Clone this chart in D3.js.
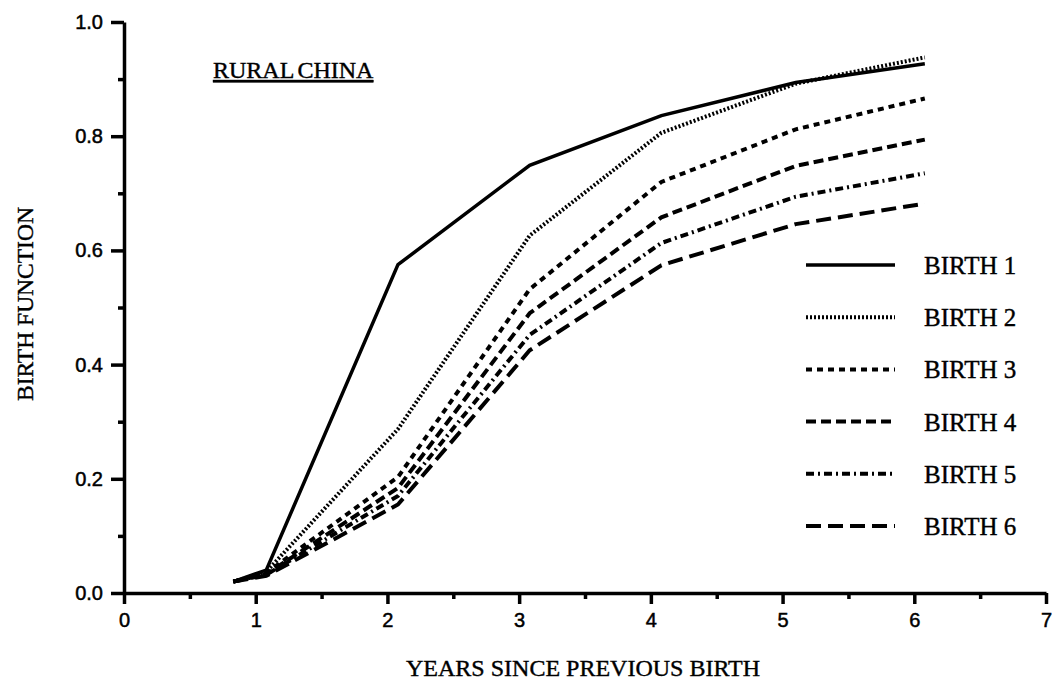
<!DOCTYPE html>
<html>
<head>
<meta charset="utf-8">
<script src="https://cdnjs.cloudflare.com/ajax/libs/d3/7.8.5/d3.min.js"></script>
<style>
  body { margin: 0; background: #fff; }
  .tick text { font-family: "Liberation Sans", Arial, sans-serif; font-size: 20px; fill: #000; stroke: #000; stroke-width: 0.5px; }
  .serif { font-family: "Liberation Serif", "Times New Roman", serif; fill: #000; stroke: #000; stroke-width: 0.4px; }
  .domain, .tick line { stroke: #000; stroke-width: 3.5px; }
</style>
</head>
<body>
<div id="chart-area"></div>
<script>
// data
var years = [0.83, 1.08, 2.08, 3.08, 4.08, 5.1, 6.08];
var birth1 = [0.020, 0.040, 0.575, 0.749, 0.836, 0.894, 0.927];
var birth2 = [0.020, 0.037, 0.287, 0.626, 0.806, 0.892, 0.938];
var birth3 = [0.020, 0.035, 0.203, 0.532, 0.720, 0.812, 0.866];
var birth4 = [0.020, 0.033, 0.184, 0.490, 0.658, 0.748, 0.794];
var birth5 = [0.020, 0.032, 0.170, 0.452, 0.613, 0.694, 0.735];
var birth6 = [0.020, 0.030, 0.155, 0.425, 0.574, 0.646, 0.682];
var seriesNames = ["BIRTH 1", "BIRTH 2", "BIRTH 3", "BIRTH 4", "BIRTH 5", "BIRTH 6"];
var xTicks = [0, 1, 2, 3, 4, 5, 6, 7];
var yTicks = [0, 0.2, 0.4, 0.6, 0.8, 1.0];

var allSeries = [birth1, birth2, birth3, birth4, birth5, birth6];
// line styles: solid, dotted, short dash, dash, dash-dot, long dash
var dashes = ["none", "2,2", "6,5", "10,5", "8,4,2,4", "15,7"];
var widths = [3.5, 4, 4, 4, 4, 4];

var width = 1052, height = 681;

var svg = d3.select("#chart-area")
    .append("svg")
        .attr("width", width)
        .attr("height", height);

// Scales
var xScale = d3.scaleLinear()
    .domain([0, 7])
    .range([124, 1046]);
var yScale = d3.scaleLinear()
    .domain([0, 1])
    .range([593, 22]);

// X Axis (major + minor ticks)
svg.append("g")
    .attr("class", "minor")
    .attr("transform", "translate(0,593)")
    .call(d3.axisBottom(xScale).tickValues(d3.range(0.5, 7, 1)).tickSize(6).tickFormat(""));
svg.append("g")
    .attr("class", "x axis")
    .attr("transform", "translate(0,593)")
    .call(d3.axisBottom(xScale).tickValues(xTicks).tickSize(11).tickSizeOuter(0).tickPadding(9)
        .tickFormat(d3.format("d")));

// Y Axis
svg.append("g")
    .attr("class", "minor")
    .attr("transform", "translate(124,0)")
    .call(d3.axisLeft(yScale).tickValues(d3.range(0.1, 1, 0.2)).tickSize(6).tickFormat(""));
svg.append("g")
    .attr("class", "y axis")
    .attr("transform", "translate(124,0)")
    .call(d3.axisLeft(yScale).tickValues(yTicks).tickSize(13).tickSizeOuter(0).tickPadding(8)
        .tickFormat(d3.format(".1f")));

svg.selectAll(".minor .domain").remove();

// Labels
svg.append("text")
    .attr("class", "serif")
    .attr("x", 583)
    .attr("y", 676)
    .attr("font-size", "24px")
    .attr("text-anchor", "middle")
    .text("YEARS SINCE PREVIOUS BIRTH");
svg.append("text")
    .attr("class", "serif")
    .attr("transform", "translate(33,304) rotate(-90)")
    .attr("font-size", "23.5px")
    .attr("text-anchor", "middle")
    .text("BIRTH FUNCTION");
svg.append("text")
    .attr("class", "serif")
    .attr("x", 213)
    .attr("y", 78)
    .attr("font-size", "24px")
    .attr("word-spacing", "-2px")
    .attr("text-decoration", "underline")
    .text("RURAL CHINA");

// lines
var line = d3.line()
    .x(function(d, i) { return xScale(years[i]); })
    .y(function(d) { return yScale(d); });

allSeries.forEach(function(s, k) {
    svg.append("path")
        .datum(s)
        .attr("d", line)
        .attr("fill", "none")
        .attr("stroke", "#000")
        .attr("stroke-width", widths[k])
        .attr("stroke-dasharray", dashes[k]);
});

// legend
var legend = svg.append("g").attr("transform", "translate(806,265)");
seriesNames.forEach(function(name, k) {
    var g = legend.append("g").attr("transform", "translate(0," + (k * 52.2) + ")");
    g.append("line")
        .attr("x1", 0).attr("x2", 89)
        .attr("stroke", "#000")
        .attr("stroke-width", widths[k])
        .attr("stroke-dasharray", dashes[k]);
    g.append("text")
        .attr("class", "serif")
        .attr("x", 118)
        .attr("y", 9)
        .attr("font-size", "25px")
        .text(name);
});
</script>
</body>
</html>
